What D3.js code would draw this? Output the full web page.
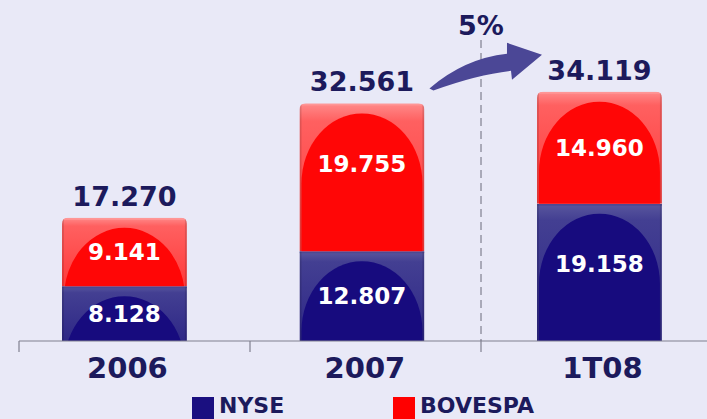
<!DOCTYPE html>
<html>
<head>
<meta charset="utf-8">
<script src="https://cdn.jsdelivr.net/npm/d3@7"></script>
<style>
  body { margin: 0; background: #e9e9f7; }
  text { font-family: "DejaVu Sans", Verdana, sans-serif; font-weight: bold; }
</style>
</head>
<body>
<div id="chart"></div>
<script>
const w = 707,
      h = 419;
const categories = ['2006', '2007', '1T08'];
const nyse = [8.128, 12.807, 19.158];
const bovespa = [9.141, 19.755, 14.960];
const totals = [17.270, 32.561, 34.119];
const growthLabel = '5%';
const seriesNames = ['NYSE', 'BOVESPA'];

const fmt = v => d3.format('.3f')(v);
const navy = '#1c1a5c';
const axisY = 341;

const svg = d3.select('#chart').append('svg')
    .attr('width', w)
    .attr('height', h);

svg.append('rect').attr('width', w).attr('height', h).attr('fill', '#e9e9f7');

const x = d3.scaleBand()
    .domain(categories)
    .range([5.7, 718.2])
    .paddingInner(0.474)
    .paddingOuter(0.237);
const y = d3.scaleLinear().domain([0, 40]).range([347, 47.8]);
const divider = d3.scalePoint().domain([0, 1, 2]).range([19, 481]);
const bw = x.bandwidth();

// gradients
const defs = svg.append('defs');
const grad = (id, stops) => {
    const g = defs.append('linearGradient').attr('id', id)
        .attr('x1', 0).attr('y1', 0).attr('x2', 0).attr('y2', 1);
    stops.forEach(s => g.append('stop').attr('offset', s[0]).attr('stop-color', s[1]));
};
grad('redGrad', [['0%', '#ff8a8a'], ['12%', '#ff6060'], ['100%', '#ff3a3a']]);
grad('blueGrad', [['0%', '#5a579e'], ['12%', '#433f92'], ['100%', '#2e2786']]);

const segments = [];
categories.forEach((c, i) => {
    segments.push({cat: c, i: i, s: 0, y0: 0, y1: nyse[i], v: nyse[i]});
    segments.push({cat: c, i: i, s: 1, y0: nyse[i], y1: totals[i], v: bovespa[i]});
});

const bars = svg.append('g');
segments.forEach((d, k) => {
    const x0 = x(d.cat);
    const top = y(d.y1);
    const bottom = d.s === 0 ? axisY : y(d.y0);
    const segH = bottom - top;
    const clipId = 'clip' + k;
    const clip = defs.append('clipPath').attr('id', clipId);
    if (d.s === 1) {
        clip.append('path').attr('d',
            `M${x0},${bottom} V${top + 6} Q${x0},${top} ${x0 + 6},${top} H${x0 + bw - 6} Q${x0 + bw},${top} ${x0 + bw},${top + 6} V${bottom} Z`);
    } else {
        clip.append('rect').attr('x', x0).attr('y', top).attr('width', bw).attr('height', segH);
    }
    const g = bars.append('g').attr('clip-path', `url(#${clipId})`);
    g.append('rect').attr('x', x0).attr('y', top).attr('width', bw).attr('height', segH)
        .attr('fill', d.s === 1 ? 'url(#redGrad)' : 'url(#blueGrad)');
    // dome highlight
    const ry = 70, rx = bw / 2 - 2, cx = x0 + bw / 2, dTop = top + 10;
    g.append('path')
        .attr('d', `M${cx - rx},${dTop + ry} A${rx},${ry} 0 0 1 ${cx + rx},${dTop + ry} V${bottom + 2} H${cx - rx} Z`)
        .attr('fill', d.s === 1 ? '#ff0606' : '#170b7e');
    // seam at top of segment and darker sides
    g.append('rect').attr('x', x0).attr('y', top).attr('width', bw).attr('height', 2)
        .attr('fill', d.s === 1 ? '#ff9a9a' : '#4a4690').attr('opacity', 0.8);
    g.append('rect').attr('x', x0).attr('y', top).attr('width', 2).attr('height', segH)
        .attr('fill', '#000').attr('opacity', 0.12);
    g.append('rect').attr('x', x0 + bw - 2).attr('y', top).attr('width', 2).attr('height', segH)
        .attr('fill', '#000').attr('opacity', 0.12);

    // value label
    const cy = Math.min((top + bottom) / 2, top + 60);
    svg.append('text')
        .attr('x', x0 + bw / 2)
        .attr('y', cy)
        .attr('dy', '0.36em')
        .attr('text-anchor', 'middle')
        .attr('fill', '#ffffff')
        .attr('font-size', 23)
        .text(fmt(d.v));
});

// totals
svg.selectAll('text.total')
    .data(categories)
    .enter().append('text')
    .attr('class', 'total')
    .attr('x', d => x(d) + bw / 2)
    .attr('y', (d, i) => y(totals[i]) - 12)
    .attr('text-anchor', 'middle')
    .attr('fill', navy)
    .attr('font-size', 27)
    .text((d, i) => fmt(totals[i]));

// axis
svg.append('line').attr('x1', divider(0)).attr('x2', w).attr('y1', axisY).attr('y2', axisY)
    .attr('stroke', '#80808f').attr('stroke-width', 1.2);
svg.selectAll('line.tick')
    .data(divider.domain())
    .enter().append('line')
    .attr('class', 'tick')
    .attr('x1', d => divider(d)).attr('x2', d => divider(d))
    .attr('y1', axisY).attr('y2', axisY + 11)
    .attr('stroke', '#80808f').attr('stroke-width', 1.2);

svg.selectAll('text.cat')
    .data(categories)
    .enter().append('text')
    .attr('class', 'cat')
    .attr('x', d => x(d) + bw / 2 + 3)
    .attr('y', 378)
    .attr('text-anchor', 'middle')
    .attr('fill', navy)
    .attr('font-size', 29)
    .text(d => d);

// dashed divider before last category
svg.append('line')
    .attr('x1', divider(2)).attr('x2', divider(2))
    .attr('y1', 40).attr('y2', axisY)
    .attr('stroke', '#6a6a7a').attr('stroke-width', 1)
    .attr('stroke-dasharray', '8,5');

// growth arrow
const ax = x('2007') + bw + 5, ay = y(totals[1]) - 15;
const tx = x('1T08') + 3, ty = y(totals[2]) - 37;
svg.append('path')
    .attr('d', `M${ax},${ay} Q${ax + 35},${ay - 30} ${tx - 33},${ty - 1} L${tx - 33},${ty - 12}
               L${tx + 2},${ty} L${tx - 28},${ty + 25} L${tx - 29},${ty + 16} Q${ax + 48},${ay - 14} ${ax + 4},${ay + 2} Z`)
    .attr('fill', '#4b4796');
svg.append('text')
    .attr('x', divider(2))
    .attr('y', 35)
    .attr('text-anchor', 'middle')
    .attr('fill', navy)
    .attr('font-size', 27)
    .text(growthLabel);

// legend
const legendX = [192, 393];
const legendColors = ['#1a0f80', '#ff0000'];
seriesNames.forEach((name, i) => {
    svg.append('rect').attr('x', legendX[i]).attr('y', 397).attr('width', 22).attr('height', 22)
        .attr('fill', legendColors[i]);
    svg.append('text').attr('x', legendX[i] + 27).attr('y', 413)
        .attr('fill', navy).attr('font-size', 22).text(name);
});
</script>
</body>
</html>
